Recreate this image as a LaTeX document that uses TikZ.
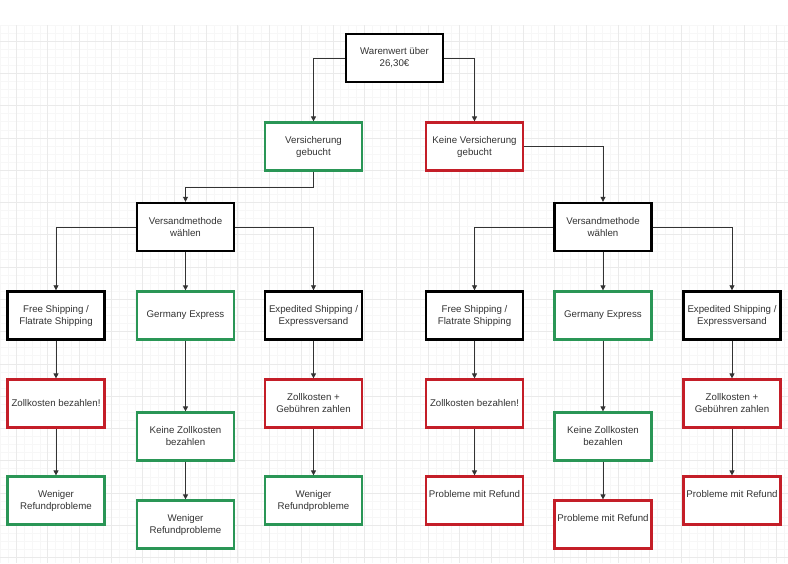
\documentclass[tikz,border=0pt]{standalone}
\usepackage{fontspec}
\setmainfont{Liberation Sans}
\usetikzlibrary{arrows.meta}
\definecolor{boxgreen}{HTML}{2A9656}
\definecolor{boxred}{HTML}{C41E28}
\definecolor{gridminor}{HTML}{F7F7F7}
\definecolor{gridmajor}{HTML}{EAEAEA}
\definecolor{txt}{HTML}{333333}
\tikzset{
  box/.style={rectangle, minimum width=97pt, minimum height=48pt, inner sep=1pt,
    align=center, font=\fontsize{9.7}{12}\selectfont, text=txt, fill=white},
  blackbox/.style={box, draw=black, line width=2.4pt},
  greenbox/.style={box, draw=boxgreen, line width=2.2pt},
  redbox/.style={box, draw=boxred, line width=2.2pt},
  raised/.style={text height=7pt, text depth=13pt},
  conn/.style={draw=txt, line width=0.8pt, -{Triangle[length=5pt,width=5pt]}}
}
\begin{document}
\begin{tikzpicture}[x=1pt,y=-1pt]
\useasboundingbox (0,0) rectangle (788,563);
\fill[white] (0,0) rectangle (788,563);
\begin{scope}
\clip (0,25) rectangle (788,563);
\foreach \k in {-2,...,98} {
  \draw[gridminor, line width=0.5pt] ({16+7.92*\k},25) -- ({16+7.92*\k},563);
}
\foreach \k in {-2,...,68} {
  \draw[gridminor, line width=0.5pt] (0,{41+8.07*\k}) -- (788,{41+8.07*\k});
}
\foreach \k in {-1,...,25} {
  \draw[gridmajor, line width=0.6pt] ({16+31.68*\k},25) -- ({16+31.68*\k},563);
}
\foreach \k in {-1,...,17} {
  \draw[gridmajor, line width=0.6pt] (0,{41+32.28*\k}) -- (788,{41+32.28*\k});
}
\end{scope}

\node[blackbox] (top) at (394.5,58) {Warenwert über\\26,30€};
\node[greenbox] (vg) at (313.5,146.5) {Versicherung\\gebucht};
\node[redbox] (kv) at (474.5,146.5) {Keine Versicherung\\gebucht};

\node[blackbox] (vmL) at (185.5,227) {Versandmethode\\wählen};
\node[blackbox] (vmR) at (603,227) {Versandmethode\\wählen};

% left branch
\node[blackbox] (fsL) at (56,315.5) {Free Shipping /\\Flatrate Shipping};
\node[greenbox] (geL) at (185.5,315.5) {Germany Express};
\node[blackbox] (exL) at (313.5,315.5) {Expedited Shipping /\\Expressversand};
\node[redbox] (zbL) at (56,403.5) {Zollkosten bezahlen!};
\node[greenbox] (kzL) at (185.5,436.5) {Keine Zollkosten\\bezahlen};
\node[redbox] (zgL) at (313.5,403.5) {Zollkosten +\\Gebühren zahlen};
\node[greenbox] (wL1) at (56,500.5) {Weniger\\Refundprobleme};
\node[greenbox] (wL2) at (185.5,524.5) {Weniger\\Refundprobleme};
\node[greenbox] (wL3) at (313.5,500.5) {Weniger\\Refundprobleme};

% right branch
\node[blackbox] (fsR) at (474.5,315.5) {Free Shipping /\\Flatrate Shipping};
\node[greenbox] (geR) at (603,315.5) {Germany Express};
\node[blackbox] (exR) at (732,315.5) {Expedited Shipping /\\Expressversand};
\node[redbox] (zbR) at (474.5,403.5) {Zollkosten bezahlen!};
\node[greenbox] (kzR) at (603,436.5) {Keine Zollkosten\\bezahlen};
\node[redbox] (zgR) at (732,403.5) {Zollkosten +\\Gebühren zahlen};
\node[redbox, raised] (pR1) at (474.5,500.5) {Probleme mit Refund};
\node[redbox, raised] (pR2) at (603,524.5) {Probleme mit Refund};
\node[redbox, raised] (pR3) at (732,500.5) {Probleme mit Refund};

% connectors
\draw[conn] (top.west) -| (vg.north);
\draw[conn] (top.east) -| (kv.north);
\draw[conn] (vg.south) -- ++(0,16) -| (vmL.north);
\draw[conn] (kv.east) -| (vmR.north);

\draw[conn] (vmL.west) -| (fsL.north);
\draw[conn] (vmL.south) -- (geL.north);
\draw[conn] (vmL.east) -| (exL.north);
\draw[conn] (vmR.west) -| (fsR.north);
\draw[conn] (vmR.south) -- (geR.north);
\draw[conn] (vmR.east) -| (exR.north);

\draw[conn] (fsL.south) -- (zbL.north);
\draw[conn] (geL.south) -- (kzL.north);
\draw[conn] (exL.south) -- (zgL.north);
\draw[conn] (zbL.south) -- (wL1.north);
\draw[conn] (kzL.south) -- (wL2.north);
\draw[conn] (zgL.south) -- (wL3.north);

\draw[conn] (fsR.south) -- (zbR.north);
\draw[conn] (geR.south) -- (kzR.north);
\draw[conn] (exR.south) -- (zgR.north);
\draw[conn] (zbR.south) -- (pR1.north);
\draw[conn] (kzR.south) -- (pR2.north);
\draw[conn] (zgR.south) -- (pR3.north);
\end{tikzpicture}
\end{document}
